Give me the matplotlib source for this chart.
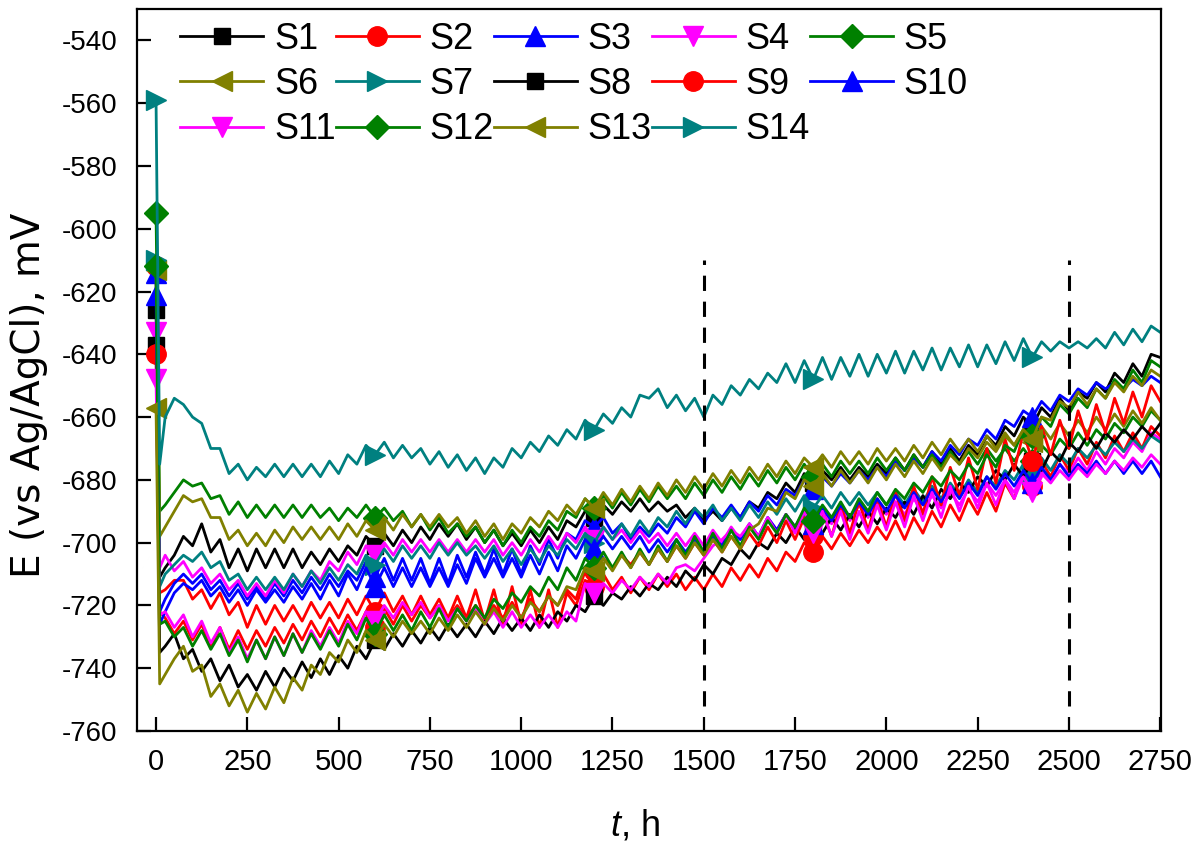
import numpy as np
import matplotlib.pyplot as plt

plt.rcParams['font.family'] = 'Liberation Sans'
plt.rcParams['mathtext.fontset'] = 'custom'
plt.rcParams['mathtext.it'] = 'Liberation Sans:italic'
plt.rcParams['mathtext.rm'] = 'Liberation Sans'
plt.rcParams['axes.unicode_minus'] = False

# sampling times, h (first reading, then every 25 h)
t_h = np.concatenate([[0, 10], np.arange(25, 2751, 25)])

# open circuit potential, mV vs Ag/AgCl
S1 = [-626, -711,
      -708, -704, -698, -701, -694, -703, -699, -708, -702, -709, -702, -708, -702, -708, -702, -708,
      -703, -707, -702, -706, -701, -704, -698, -701, -697, -701, -696, -700, -695, -699, -694, -698,
      -694, -699, -695, -700, -696, -701, -697, -701, -696, -700, -695, -699, -693, -695, -690, -692,
      -688, -691, -687, -690, -686, -690, -687, -690, -688, -692, -689, -693, -690, -693, -689, -692,
      -687, -689, -684, -686, -681, -684, -678, -681, -677, -680, -676, -680, -676, -679, -675, -678,
      -673, -677, -672, -676, -671, -675, -670, -674, -669, -672, -666, -669, -663, -666, -660, -663,
      -657, -660, -654, -658, -652, -654, -649, -652, -646, -649, -643, -647, -640, -641]
S2 = [-612, -716,
      -715, -712, -712, -718, -715, -721, -716, -723, -719, -727, -720, -726, -720, -725, -720, -725,
      -719, -724, -719, -724, -718, -723, -717, -722, -716, -722, -717, -723, -717, -723, -718, -724,
      -717, -724, -715, -725, -715, -726, -714, -726, -715, -727, -715, -727, -716, -720, -712, -714,
      -710, -715, -711, -716, -711, -715, -710, -714, -710, -715, -711, -715, -710, -714, -708, -712,
      -707, -711, -705, -709, -703, -706, -700, -703, -698, -702, -697, -701, -696, -700, -695, -699,
      -693, -699, -692, -697, -690, -695, -688, -693, -686, -691, -684, -690, -681, -686, -677, -682,
      -674, -679, -672, -677, -670, -675, -668, -673, -666, -671, -665, -670, -663, -666]
S3 = [-614, -722,
      -718, -713, -710, -713, -710, -715, -712, -717, -713, -718, -714, -718, -713, -717, -712, -716,
      -711, -715, -710, -714, -709, -712, -706, -711, -705, -712, -705, -712, -705, -713, -705, -713,
      -704, -711, -703, -710, -702, -710, -702, -710, -701, -707, -699, -705, -697, -699, -693, -695,
      -692, -697, -694, -699, -695, -698, -694, -697, -692, -695, -690, -694, -689, -692, -688, -692,
      -687, -690, -685, -688, -683, -685, -680, -683, -679, -682, -678, -681, -677, -680, -676, -679,
      -674, -677, -673, -676, -671, -674, -669, -672, -667, -669, -664, -667, -661, -663, -658, -660,
      -655, -658, -653, -655, -651, -653, -649, -651, -649, -651, -648, -650, -647, -649]
S4 = [-633, -708,
      -704, -709, -706, -711, -708, -713, -710, -715, -712, -717, -713, -717, -712, -716, -710, -714,
      -709, -712, -706, -709, -703, -707, -701, -704, -700, -704, -699, -703, -699, -703, -699, -703,
      -699, -703, -699, -703, -699, -704, -700, -704, -699, -703, -698, -702, -697, -700, -695, -699,
      -695, -699, -696, -700, -696, -700, -697, -701, -697, -701, -697, -701, -696, -700, -695, -699,
      -694, -698, -692, -696, -691, -695, -690, -694, -690, -694, -689, -693, -688, -692, -687, -691,
      -687, -691, -686, -690, -685, -689, -684, -688, -683, -687, -681, -685, -680, -684, -678, -682,
      -677, -680, -675, -678, -673, -677, -671, -675, -670, -673, -668, -671, -665, -667]
S5 = [-595, -690,
      -688, -684, -680, -682, -681, -686, -685, -691, -687, -692, -688, -692, -688, -692, -688, -692,
      -688, -692, -689, -693, -689, -692, -688, -692, -689, -693, -690, -695, -691, -696, -692, -697,
      -694, -698, -695, -700, -696, -701, -696, -700, -695, -698, -693, -696, -690, -692, -686, -689,
      -685, -689, -684, -688, -683, -687, -682, -686, -682, -686, -681, -685, -680, -684, -679, -683,
      -678, -682, -677, -681, -676, -680, -675, -679, -675, -679, -674, -678, -674, -678, -673, -677,
      -673, -677, -672, -676, -672, -676, -671, -675, -671, -675, -670, -674, -670, -674, -670, -674,
      -669, -672, -667, -670, -665, -669, -664, -667, -662, -665, -660, -663, -658, -661]
S6 = [-613, -698,
      -695, -690, -685, -687, -686, -692, -692, -699, -696, -701, -697, -701, -696, -700, -695, -699,
      -695, -699, -695, -699, -694, -698, -693, -696, -692, -696, -691, -695, -691, -695, -691, -695,
      -692, -697, -693, -698, -694, -699, -694, -697, -692, -695, -690, -693, -688, -691, -686, -689,
      -684, -688, -683, -687, -682, -686, -681, -685, -680, -684, -679, -683, -678, -682, -677, -681,
      -676, -680, -675, -679, -674, -678, -673, -676, -672, -676, -671, -675, -671, -675, -670, -674,
      -670, -674, -669, -673, -668, -672, -667, -671, -667, -671, -666, -670, -665, -669, -664, -668,
      -663, -667, -662, -666, -661, -665, -660, -664, -659, -663, -658, -662, -657, -661]
S7 = [-610, -714,
      -710, -707, -704, -706, -703, -708, -706, -712, -710, -715, -711, -715, -711, -715, -710, -714,
      -709, -713, -708, -712, -707, -710, -704, -707, -702, -706, -701, -705, -701, -705, -700, -704,
      -700, -704, -701, -705, -701, -706, -702, -707, -702, -706, -701, -704, -699, -702, -697, -700,
      -695, -699, -694, -698, -693, -697, -692, -695, -690, -694, -689, -692, -688, -693, -689, -693,
      -688, -692, -687, -691, -686, -690, -685, -689, -685, -689, -684, -688, -684, -688, -684, -688,
      -684, -688, -683, -687, -682, -686, -681, -685, -680, -684, -679, -682, -677, -680, -675, -678,
      -673, -677, -672, -675, -670, -673, -669, -672, -668, -671, -667, -670, -666, -668]
S8 = [-637, -735,
      -733, -729, -737, -734, -741, -737, -744, -739, -746, -742, -747, -741, -746, -740, -744, -738,
      -743, -737, -742, -736, -740, -733, -737, -731, -734, -729, -733, -728, -732, -727, -731, -726,
      -730, -726, -730, -725, -729, -724, -728, -724, -728, -723, -727, -722, -725, -720, -722, -717,
      -720, -716, -718, -714, -717, -713, -715, -711, -714, -709, -712, -707, -710, -705, -707, -702,
      -705, -700, -702, -697, -700, -695, -699, -694, -697, -692, -696, -691, -695, -690, -694, -689,
      -692, -687, -691, -685, -689, -683, -686, -681, -684, -679, -682, -677, -680, -675, -679, -674,
      -677, -671, -674, -668, -671, -666, -670, -665, -668, -664, -667, -663, -666, -662]
S9 = [-640, -722,
      -724, -729, -725, -731, -726, -733, -727, -734, -728, -734, -728, -733, -727, -732, -726, -731,
      -725, -730, -724, -729, -723, -728, -722, -727, -721, -726, -720, -725, -720, -724, -720, -724,
      -720, -724, -720, -724, -720, -724, -719, -724, -718, -722, -717, -720, -715, -718, -709, -709,
      -705, -708, -704, -707, -703, -707, -702, -706, -701, -705, -700, -704, -699, -703, -698, -702,
      -697, -701, -695, -700, -693, -699, -692, -698, -690, -698, -688, -697, -687, -696, -686, -695,
      -684, -693, -682, -691, -679, -688, -676, -685, -673, -683, -670, -681, -667, -677, -665, -674,
      -663, -672, -661, -670, -658, -667, -656, -665, -654, -662, -652, -660, -650, -655]
S10 = [-621, -726,
       -722, -716, -713, -715, -712, -717, -714, -719, -715, -720, -715, -719, -715, -719, -714, -718,
       -713, -718, -712, -717, -710, -715, -708, -714, -708, -714, -708, -714, -708, -714, -708, -714,
       -707, -713, -705, -711, -705, -711, -705, -711, -704, -710, -703, -709, -701, -705, -699, -702,
       -698, -702, -698, -702, -698, -703, -699, -703, -699, -703, -699, -703, -698, -701, -696, -699,
       -694, -698, -692, -696, -691, -695, -690, -694, -689, -693, -688, -692, -687, -691, -686, -690,
       -685, -689, -684, -688, -683, -687, -682, -686, -681, -685, -679, -683, -678, -682, -677, -681,
       -676, -680, -675, -679, -675, -678, -674, -678, -674, -678, -674, -678, -674, -679]
S11 = [-648, -723,
       -722, -727, -723, -730, -725, -732, -727, -735, -730, -737, -731, -737, -730, -736, -729, -735,
       -728, -733, -727, -732, -725, -729, -722, -725, -720, -724, -719, -723, -719, -724, -720, -725,
       -721, -725, -721, -726, -722, -727, -722, -727, -723, -727, -723, -727, -722, -725, -713, -716,
       -713, -716, -712, -715, -711, -714, -710, -713, -708, -707, -709, -705, -701, -699, -696, -698,
       -694, -698, -692, -697, -691, -697, -690, -697, -690, -698, -690, -699, -690, -697, -688, -696,
       -687, -695, -685, -693, -684, -692, -682, -690, -682, -689, -681, -688, -680, -686, -679, -684,
       -678, -681, -677, -680, -676, -679, -675, -678, -674, -677, -673, -676, -672, -675]
S12 = [-612, -726,
       -725, -730, -727, -733, -728, -734, -729, -736, -731, -738, -731, -737, -730, -736, -729, -735,
       -729, -734, -728, -733, -726, -731, -724, -729, -723, -728, -723, -728, -722, -727, -721, -727,
       -721, -725, -720, -724, -718, -721, -716, -719, -714, -717, -711, -715, -708, -712, -705, -708,
       -703, -708, -703, -708, -702, -707, -701, -706, -699, -704, -698, -703, -697, -702, -696, -701,
       -695, -699, -693, -697, -691, -695, -689, -693, -688, -692, -687, -692, -686, -690, -684, -688,
       -683, -686, -681, -684, -679, -682, -677, -680, -675, -678, -672, -676, -669, -671, -664, -666,
       -660, -663, -656, -659, -654, -657, -651, -654, -648, -651, -645, -649, -642, -644]
S13 = [-657, -745,
       -742, -737, -733, -741, -739, -749, -745, -752, -747, -754, -748, -753, -746, -751, -743, -747,
       -739, -742, -735, -738, -731, -735, -728, -731, -726, -730, -725, -729, -725, -729, -724, -728,
       -723, -727, -722, -726, -721, -725, -720, -724, -719, -722, -717, -720, -714, -715, -708, -709,
       -705, -709, -704, -708, -703, -707, -702, -706, -701, -705, -700, -704, -699, -703, -698, -702,
       -696, -694, -689, -690, -684, -686, -680, -682, -678, -682, -677, -681, -677, -681, -676, -680,
       -675, -679, -674, -678, -673, -677, -672, -675, -670, -673, -668, -671, -666, -669, -664, -667,
       -660, -661, -655, -657, -652, -656, -651, -654, -649, -652, -647, -650, -645, -647]
S14 = [-559, -675,
       -660, -654, -656, -660, -662, -670, -670, -678, -675, -680, -676, -679, -675, -679, -675, -679,
       -675, -679, -674, -678, -672, -675, -669, -672, -668, -673, -669, -673, -670, -675, -671, -676,
       -672, -677, -673, -678, -673, -676, -670, -673, -668, -671, -666, -669, -664, -667, -661, -664,
       -659, -662, -657, -660, -653, -654, -651, -657, -653, -658, -654, -660, -653, -656, -650, -653,
       -648, -651, -646, -649, -643, -649, -642, -648, -641, -648, -641, -647, -640, -647, -640, -646,
       -639, -646, -639, -645, -638, -645, -638, -644, -637, -644, -637, -643, -636, -642, -635, -641,
       -636, -639, -636, -638, -636, -638, -635, -638, -633, -637, -632, -636, -631, -633]

names = ['S1', 'S2', 'S3', 'S4', 'S5', 'S6', 'S7',
         'S8', 'S9', 'S10', 'S11', 'S12', 'S13', 'S14']
series = [S1, S2, S3, S4, S5, S6, S7, S8, S9, S10, S11, S12, S13, S14]
colors = ['black', 'red', 'blue', 'magenta', 'green', 'olive', 'teal'] * 2
markers = ['s', 'o', '^', 'v', 'D', '<', '>'] * 2
msize = {'s': 11.5, 'o': 14, '^': 14, 'v': 14, 'D': 12, '<': 14, '>': 14}

marker_t = [0, 600, 1200, 1800, 2400]
mark_idx = list(np.flatnonzero(np.isin(t_h, marker_t)))

fig = plt.figure(figsize=(11.98, 8.41), dpi=100)
ax = fig.add_axes([0.1144, 0.1308, 0.8547, 0.8585])

lines = []
for name, y, c, m in zip(names, series, colors, markers):
    ln, = ax.plot(t_h, y, color=c, lw=2.0, marker=m, ms=msize[m],
                  markevery=mark_idx, label=name)
    lines.append(ln)

# test stage boundaries
ax.vlines([1500, 2500], -752, -610, colors='black',
          linestyles=(0, (5, 3.5)), lw=2.2, zorder=5)

ax.set_xlim(-52, 2752)
ax.set_ylim(-760, -530)
ax.set_xticks(np.arange(0, 2751, 250))
ax.set_yticks(np.arange(-760, -539, 20))
ax.tick_params(direction='in', length=10, width=1.6, top=False, right=False)
ax.tick_params(axis='x', labelsize=21, pad=12)
ax.tick_params(axis='y', labelsize=20, pad=14)
for s in ax.spines.values():
    s.set_linewidth(1.6)

ax.set_xlabel(r'$t$, h', fontsize=26)
ax.xaxis.set_label_coords(0.486, -0.107)
ax.set_ylabel('E (vs Ag/AgCl), mV', fontsize=28, family='DejaVu Sans')
ax.yaxis.set_label_coords(-0.087, 0.465)

# legend laid out row by row: S1-S5, S6-S10, S11-S14
order = [0, 5, 10, 1, 6, 11, 2, 7, 12, 3, 8, 13, 4, 9]
ax.legend([lines[i] for i in order], [names[i] for i in order], ncol=5,
          loc='upper left', bbox_to_anchor=(0.042, 0.982), frameon=False,
          fontsize=26, handlelength=2.3, handletextpad=0.3,
          columnspacing=0.0, labelspacing=0.28, borderpad=0, borderaxespad=0)

fig.savefig('out.png', dpi=100)
